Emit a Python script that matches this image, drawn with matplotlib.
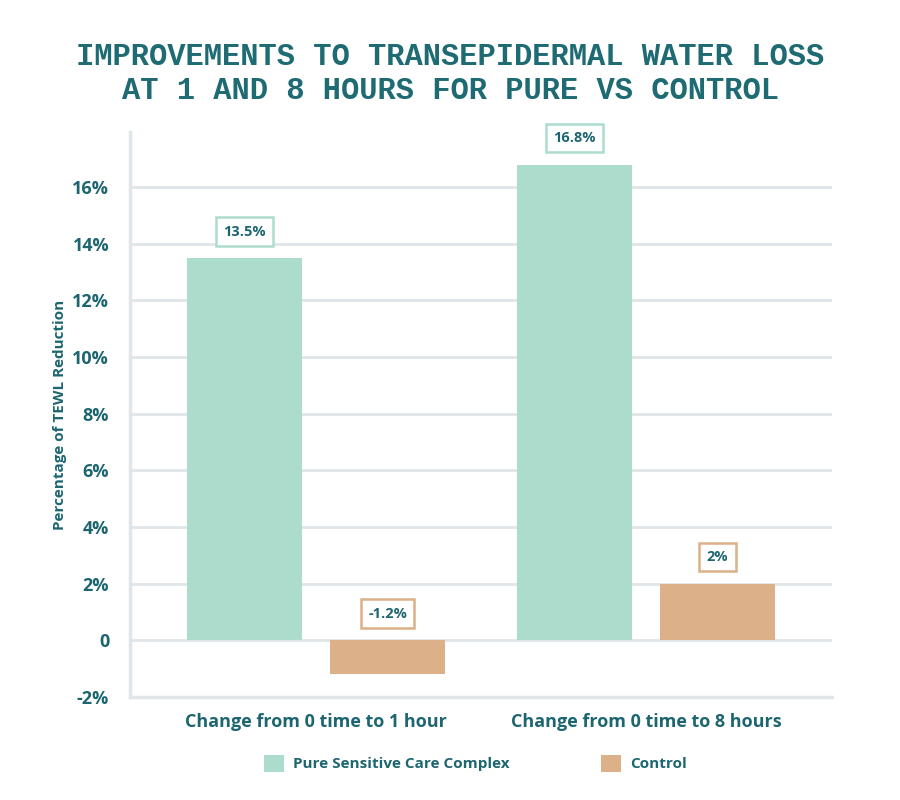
import matplotlib.pyplot as plt
import numpy as np

# data
categories = ["Change from 0 time to 1 hour", "Change from 0 time to 8 hours"]
series_names = ["Pure Sensitive Care Complex", "Control"]
pure_values = [13.5, 16.8]
control_values = [-1.2, 2.0]
pure_labels = ["13.5%", "16.8%"]
control_labels = ["-1.2%", "2%"]
y_ticks = [-2, 0, 2, 4, 6, 8, 10, 12, 14, 16]
y_tick_labels = ["-2%", "0", "2%", "4%", "6%", "8%", "10%", "12%", "14%", "16%"]

teal = "#acdccb"
tan = "#dcb088"
text_col = "#1d6670"
grid_col = "#dfe5e8"

plt.rcParams['font.family'] = ['Open Sans', 'DejaVu Sans']

fig = plt.figure(figsize=(9, 8), dpi=100)
ax = fig.add_axes([0.1444, 0.129, 0.78, 0.706])

x = np.arange(len(categories))
w = 0.35
off = 0.217

b1 = ax.bar(x - off, pure_values, w, color=teal, zorder=3)
b2 = ax.bar(x + off, control_values, w, color=tan, zorder=3)

# value labels in boxes
for bars, labels, col in [(b1, pure_labels, teal), (b2, control_labels, tan)]:
    for rect, lab in zip(bars, labels):
        top = rect.get_height() if rect.get_height() > 0 else 0
        ax.annotate(lab, (rect.get_x() + rect.get_width() / 2, top),
                    xytext=(0, 19), textcoords="offset points",
                    ha="center", va="center", fontsize=10.5, fontweight="bold",
                    color=text_col, zorder=5,
                    bbox=dict(boxstyle="square,pad=0.5", fc="white", ec=col, lw=1.8))

ax.set_xlim(-0.564, 1.564)
ax.set_ylim(-2, 17.95)
ax.set_yticks(y_ticks)
ax.set_yticklabels(y_tick_labels)
ax.set_xticks(x)
ax.set_xticklabels(categories)
ax.tick_params(axis="both", length=0, labelsize=13, labelcolor=text_col)
ax.tick_params(axis="y", pad=15)
ax.tick_params(axis="x", pad=12)
for t in ax.get_xticklabels() + ax.get_yticklabels():
    t.set_fontweight("bold")

ax.grid(axis="y", color=grid_col, linewidth=2, zorder=0)
for s in ["top", "right"]:
    ax.spines[s].set_visible(False)
for s in ["left", "bottom"]:
    ax.spines[s].set_color(grid_col)
    ax.spines[s].set_linewidth(2.5)

ax.set_ylabel("Percentage of TEWL Reduction", fontsize=11, fontweight="bold",
              color=text_col, labelpad=4)

fig.text(0.5, 0.929, "IMPROVEMENTS TO TRANSEPIDERMAL WATER LOSS",
         ha="center", va="center", fontsize=22, fontweight="bold",
         family="Liberation Mono", color="#1f6b73")
fig.text(0.5, 0.886, "AT 1 AND 8 HOURS FOR PURE VS CONTROL",
         ha="center", va="center", fontsize=22, fontweight="bold",
         family="Liberation Mono", color="#1f6b73")

leg = fig.legend([b1, b2], series_names, loc="center", bbox_to_anchor=(0.528, 0.046),
                 ncol=2, frameon=False, fontsize=11, handlelength=1.3, handleheight=1.3,
                 columnspacing=6.0, handletextpad=0.6)
for t in leg.get_texts():
    t.set_color(text_col)
    t.set_fontweight("bold")

fig.savefig("out.png", dpi=100)
